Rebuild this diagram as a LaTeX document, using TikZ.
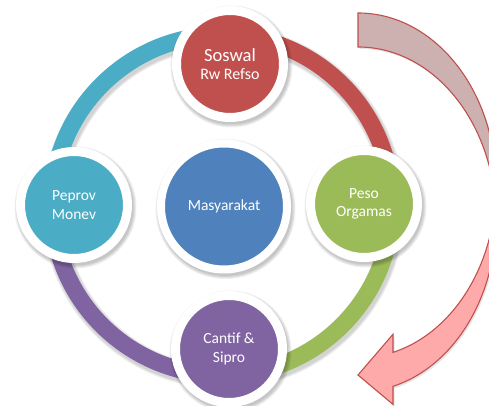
\documentclass[tikz,border=0pt]{standalone}
\usepackage{fontspec}
\setmainfont{Carlito}
\definecolor{cred}{HTML}{C0504D}
\definecolor{cgreen}{HTML}{9BBB59}
\definecolor{cpurple}{HTML}{8064A2}
\definecolor{cteal}{HTML}{4BACC6}
\definecolor{cblue}{HTML}{4F81BD}
\definecolor{arrback}{HTML}{CDB0B0}
\definecolor{arrfront}{HTML}{FFAAAA}
\definecolor{arrline}{HTML}{C0504D}
\newcommand\softshadowAt[3]{%
  \foreach \k in {0,1,2,3}{\fill[black,opacity=0.06] (#1+1.5,#2-2.5) circle[radius={(#3+\k)*1pt}];}}
\begin{document}
\begin{tikzpicture}[x=1pt,y=1pt,
  ringseg/.style={line width=17pt},
  outercirc/.style={circle, draw=white, line width=9pt, minimum size=107pt, inner sep=0pt,
    text=white, font=\fontsize{15.5}{18.5}\selectfont, align=center},
  hubcirc/.style={circle, draw=white, line width=8pt, minimum size=126pt, inner sep=0pt,
    text=white, font=\fontsize{15.5}{18.5}\selectfont, align=center},
  arrowline/.style={draw=arrline, line width=1.1pt, line join=miter}
]
\fill[white] (0,0) rectangle (489,406);
\useasboundingbox (0,0) rectangle (489,406);

% ring
\coordinate (rc) at (222,201);
\foreach \w in {23,21,19}{\draw[black,opacity=0.06,line width=\w pt] (223.5,198.5) circle[radius=170pt];}
\draw[ringseg, cteal]   (rc) ++(180:170pt) arc[start angle=180, end angle=90,  radius=170pt];
\draw[ringseg, cred]    (rc) ++(90:170pt)  arc[start angle=90,  end angle=0,   radius=170pt];
\draw[ringseg, cgreen]  (rc) ++(0:170pt)   arc[start angle=0,   end angle=-90, radius=170pt];
\draw[ringseg, cpurple] (rc) ++(-90:170pt) arc[start angle=-90, end angle=-180,radius=170pt];

% curved arrow shadow
\fill[black,opacity=0.10] (359.5,391) arc[start angle=90, end angle=0, x radius=138pt, y radius=172.5pt]
  -- (497.5,184.5) arc[start angle=0, end angle=90, x radius=138pt, y radius=172.5pt] -- cycle;
\fill[black,opacity=0.10] (359.5,29) -- (394.5,69.7) -- (394.5,51.6)
  arc[start angle=-75.3, end angle=0, x radius=138pt, y radius=172.5pt]
  -- (497.5,184.5) arc[start angle=0, end angle=-75.3, x radius=138pt, y radius=172.5pt]
  -- (394.5,-0.4) -- cycle;
% curved arrow: back part
\path[arrowline, fill=arrback] (358,393) arc[start angle=90, end angle=0, x radius=138pt, y radius=172.5pt]
  -- (496,186.5) arc[start angle=0, end angle=90, x radius=138pt, y radius=172.5pt] -- cycle;
% curved arrow: front part with head
\path[arrowline, fill=arrfront] (358,31) -- (393,71.7) -- (393,53.6)
  arc[start angle=-75.3, end angle=0, x radius=138pt, y radius=172.5pt]
  -- (496,186.5) arc[start angle=0, end angle=-75.3, x radius=138pt, y radius=172.5pt]
  -- (393,1.6) -- cycle;

% circle shadows
\softshadowAt{230}{342}{58}
\softshadowAt{229}{57}{58}
\softshadowAt{74}{201}{58}
\softshadowAt{364}{202}{58}
\softshadowAt{224}{199.5}{67}

% circles
\node[hubcirc, fill=cblue] (hub) at (224,199.5) {Masyarakat};
\node[outercirc, fill=cred] (top) at (230,342)
  {{\fontsize{18.6}{21}\selectfont Soswal}\\[-1pt]{\fontsize{16}{19}\selectfont Rw Refso}};
\node[outercirc, fill=cgreen] (right) at (364,202) {Peso\\Orgamas};
\node[outercirc, fill=cpurple] (bottom) at (229,57) {Cantif \&\\Sipro};
\node[outercirc, fill=cteal] (left) at (74,201) {Peprov\\Monev};
\end{tikzpicture}
\end{document}
